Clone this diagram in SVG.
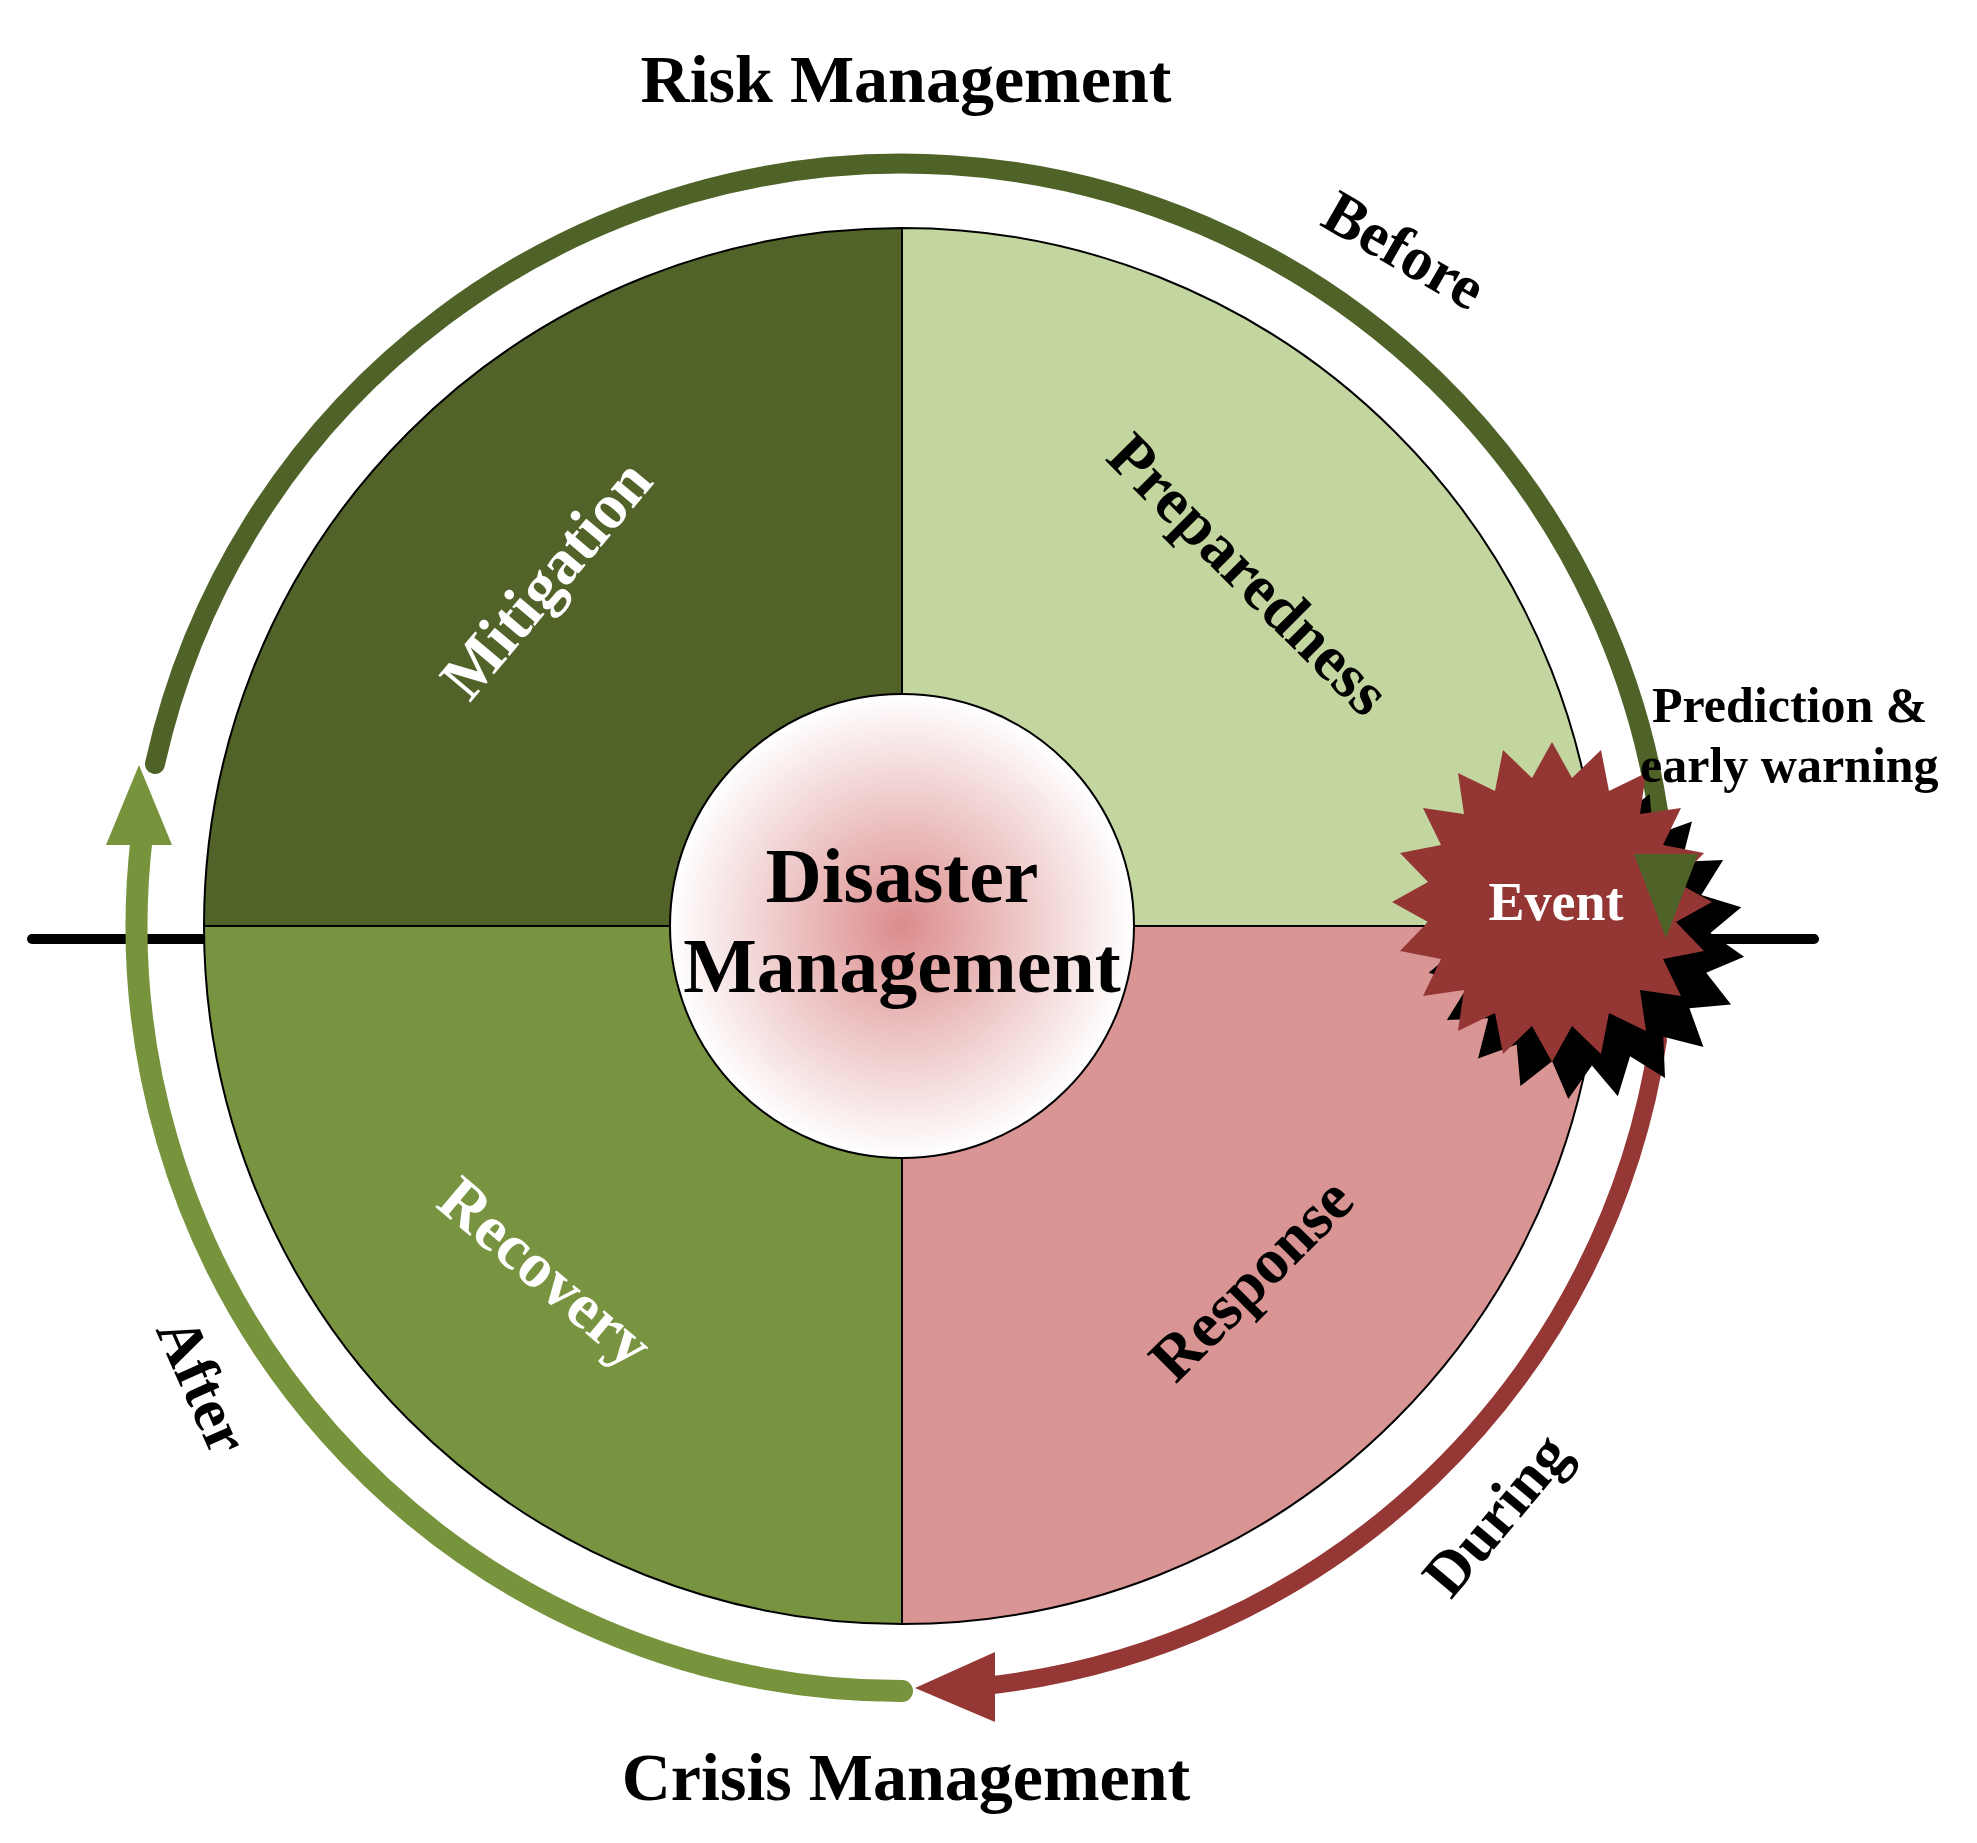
<svg xmlns="http://www.w3.org/2000/svg" xmlns:xlink="http://www.w3.org/1999/xlink" width="1977" height="1843" viewBox="0 0 1977 1843">
<style>
text{font-family:"Liberation Serif","DejaVu Serif",serif;font-weight:bold;text-anchor:middle}
.q{stroke:#000;stroke-width:2}
.arc{fill:none;stroke-linecap:round}
</style>
<defs>
<radialGradient id="g" cx="0.5" cy="0.5" r="0.5"><stop offset="0" stop-color="#dc8c8c"/><stop offset="1" stop-color="#ffffff"/></radialGradient>
<polygon id="star" points="160,0 124,20 152,49 111,57 129,94 88,88 94,129 57,111 49,152 20,124 0,160 -20,124 -49,152 -57,111 -94,129 -88,88 -129,94 -111,57 -152,49 -124,20 -160,0 -124,-20 -152,-49 -111,-57 -129,-94 -88,-88 -94,-129 -57,-111 -49,-152 -20,-124 0,-160 20,-124 49,-152 57,-111 94,-129 88,-88 129,-94 111,-57 152,-49 124,-20"/>
</defs>
<rect width="1977" height="1843" fill="#fff"/>
<line x1="32" y1="939" x2="1814" y2="939" stroke="#000" stroke-width="10" stroke-linecap="round"/>
<g id="mitigation"><path class="q" d="M902 926 L204 926 A698 698 0 0 1 902 228 Z" fill="#526329"/><text transform="translate(547,580) rotate(-50)" font-size="64" fill="#fff" dy="20">Mitigation</text></g>
<g id="preparedness"><path class="q" d="M902 926 L902 228 A698 698 0 0 1 1600 926 Z" fill="#c4d6a0"/><text transform="translate(1248,575) rotate(45)" font-size="64" fill="#000" dy="20">Preparedness</text></g>
<g id="recovery"><path class="q" d="M902 926 L902 1624 A698 698 0 0 1 204 926 Z" fill="#789440"/><text transform="translate(545,1273) rotate(40)" font-size="64" fill="#fff" dy="20">Recovery</text></g>
<g id="response"><path class="q" d="M902 926 L1600 926 A698 698 0 0 1 902 1624 Z" fill="#d99594"/><text transform="translate(1252,1280) rotate(-45)" font-size="64" fill="#000" dy="20">Response</text></g>
<g id="center"><circle cx="902" cy="926" r="232" fill="url(#g)" stroke="#000" stroke-width="2"/><text x="902" y="902" font-size="78">Disaster</text><text x="902" y="992" font-size="78">Management</text></g>
<g id="connectors">
<path class="arc" d="M155 764 A765 765 0 0 1 1664 860" stroke="#4f6228" stroke-width="20"/>
<path class="arc" d="M902 1691 A765 765 0 0 1 142 835" stroke="#77933c" stroke-width="22"/>
<polygon points="139,765 106,845 172,845" fill="#77933c"/>
<path class="arc" d="M1658 1040 A765 765 0 0 1 985 1686" stroke="#953735" stroke-width="18"/>
<polygon points="915,1688 995,1652 995,1722" fill="#953735"/>
</g>
<g id="event">
<use xlink:href="#star" transform="translate(1585,940) rotate(6)" fill="#000"/>
<use xlink:href="#star" transform="translate(1552,902)" fill="#943634"/>
<polygon points="1666,938 1634,854 1698,854" fill="#4f6228"/>
<text x="1556" y="920" font-size="54" fill="#fff">Event</text>
</g>
<g id="labels">
<text x="906" y="102" font-size="68">Risk Management</text>
<text x="906" y="1800" font-size="68">Crisis Management</text>
<text transform="translate(1394,268) rotate(30)" font-size="62">Before</text>
<text transform="translate(184,1394) rotate(66)" font-size="62">After</text>
<text transform="translate(1512,1528) rotate(-50)" font-size="62">During</text>
<text x="1652" y="722" font-size="50" style="text-anchor:start">Prediction &amp;</text>
<text x="1640" y="782" font-size="50" style="text-anchor:start">early warning</text>
</g>
</svg>
